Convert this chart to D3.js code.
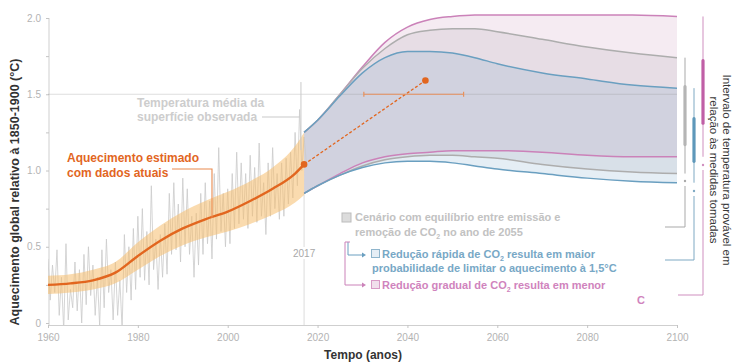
<!DOCTYPE html>
<html>
<head>
<meta charset="utf-8">
<script src="https://cdn.jsdelivr.net/npm/d3@7"></script>
<style>
  html, body { margin: 0; padding: 0; background: #fff; }
</style>
</head>
<body>
<div id="chart"></div>
<script>
// observed mean surface temperature, two readings per year from 1960
const obsStartYear = 1960;
const obsValues = [
  0.42, 0.15, 0.38, 0.20, 0.48, 0.05, 0.30, -0.05, 0.52, 0.02,
  0.22, 0.10, 0.40, 0.08, 0.35, 0.00, 0.45, 0.12, 0.50, 0.18,
  0.38, 0.05, 0.30, -0.02, 0.48, 0.10, 0.55, 0.20, 0.35, 0.02,
  0.40, 0.05, 0.28, -0.04, 0.58, 0.20, 0.50, 0.15, 0.62, 0.22,
  0.70, 0.30, 0.75, 0.28, 0.60, 0.25, 0.90, 0.35, 0.55, 0.22,
  0.58, 0.30, 0.65, 0.32, 0.85, 0.45, 0.92, 0.48, 0.78, 0.40,
  0.95, 0.50, 0.88, 0.45, 0.70, 0.30, 0.72, 0.38, 0.85, 0.45,
  0.92, 0.52, 0.80, 0.42, 0.98, 0.55, 1.15, 0.60, 0.85, 0.50,
  0.88, 0.52, 0.98, 0.62, 1.12, 0.65, 1.05, 0.68, 0.98, 0.62,
  1.10, 0.70, 1.02, 0.66, 1.18, 0.70, 0.92, 0.58, 1.05, 0.70,
  1.15, 0.75, 0.98, 0.68, 1.05, 0.70, 1.08, 0.78, 1.12, 0.82,
  1.25, 0.90, 1.40, 1.00, 1.22, 1.05
];

// estimated warming (smoothed) with its uncertainty band
const trendYears = [1960, 1965, 1970, 1975, 1980, 1985, 1990, 1995, 2000, 2005, 2010, 2015, 2017];
const trendMid = [0.25, 0.26, 0.28, 0.33, 0.44, 0.54, 0.62, 0.68, 0.73, 0.80, 0.88, 0.98, 1.04];
const trendLow = [0.19, 0.20, 0.22, 0.26, 0.35, 0.44, 0.51, 0.56, 0.60, 0.65, 0.71, 0.79, 0.84];
const trendHigh = [0.31, 0.32, 0.35, 0.40, 0.53, 0.64, 0.73, 0.80, 0.86, 0.93, 1.02, 1.16, 1.25];

// scenario ranges 2017-2100
const projYears = [2017, 2020, 2025, 2030, 2035, 2040, 2045, 2050, 2055, 2060, 2070, 2080, 2090, 2100];
const pinkTop = [1.25, 1.33, 1.50, 1.68, 1.84, 1.94, 1.99, 2.01, 2.02, 2.02, 2.02, 2.02, 2.02, 2.01];
const pinkBottom = [0.85, 0.90, 0.98, 1.05, 1.09, 1.11, 1.12, 1.13, 1.13, 1.13, 1.12, 1.10, 1.09, 1.09];
const grayTop = [1.25, 1.33, 1.50, 1.67, 1.80, 1.89, 1.92, 1.93, 1.93, 1.91, 1.86, 1.81, 1.77, 1.74];
const grayBottom = [0.85, 0.90, 0.97, 1.03, 1.07, 1.09, 1.10, 1.10, 1.09, 1.08, 1.04, 1.01, 0.99, 0.98];
const blueTop = [1.25, 1.33, 1.49, 1.64, 1.74, 1.78, 1.78, 1.77, 1.74, 1.70, 1.64, 1.60, 1.56, 1.54];
const blueBottom = [0.85, 0.90, 0.97, 1.02, 1.05, 1.06, 1.06, 1.05, 1.03, 1.01, 0.98, 0.95, 0.93, 0.92];

// likely ranges shown by the brackets on the right
const pinkLikely = [1.31, 1.72];
const grayLikely = [1.17, 1.55];
const blueLikely = [1.06, 1.34];

// projection of current warming rate and the 1.5 crossing window
const rateYears = [2017, 2044];
const rateValues = [1.04, 1.59];
const crossingYears = [2030.3, 2052.5];
const crossingValue = 1.5;

const xTicks = [1960, 1980, 2000, 2020, 2040, 2060, 2080, 2100];
const yTicks = [0, 0.25, 0.5, 0.75, 1, 1.25, 1.5, 1.75, 2];
const yTickLabels = ["0", "", "0.5", "", "1.0", "", "1.5", "", "2.0"];

window.addEventListener("load", () => {
  const width = 733;
  const height = 362;

  const orange = "#e2661f";
  const pink = "#cb82b9";
  const grayLine = "#adadad";
  const blue = "#6a9fc0";
  const dark = "#333333";
  const tickColor = "#b3b3b3";

  const svg = d3
    .select("#chart")
    .append("svg")
    .attr("width", width)
    .attr("height", height)
    .style("font-family", "'Liberation Sans', Arial, sans-serif");

  const x = d3.scaleLinear().domain([1960, 2100]).range([48, 677]);
  const y = d3.scaleLinear().domain([0, 2]).range([323, 18]);

  svg
    .append("defs")
    .append("clipPath")
    .attr("id", "plot-clip")
    .append("rect")
    .attr("x", x(1960))
    .attr("y", y(2))
    .attr("width", x(2100) - x(1960))
    .attr("height", 325 - y(2));

  // axes
  const yAxis = svg
    .append("g")
    .attr("transform", `translate(${x(1960) + 1},0)`)
    .call(
      d3
        .axisLeft(y)
        .tickValues(yTicks)
        .tickFormat((d, i) => yTickLabels[i])
        .tickSize(3)
        .tickSizeOuter(0)
        .tickPadding(5),
    );
  yAxis.select(".domain").attr("stroke", "#cfcfcf").attr("d", `M0,${y(2)}V325`);
  yAxis.selectAll(".tick line").attr("stroke", "#c4c4c4");
  yAxis.selectAll("text").attr("fill", tickColor).attr("font-size", "10px");

  const xAxis = svg
    .append("g")
    .attr("transform", "translate(0,325)")
    .call(d3.axisBottom(x).tickValues(xTicks).tickFormat(d3.format("d")).tickSize(3).tickSizeOuter(0).tickPadding(6));
  xAxis.select(".domain").attr("stroke", "#cfcfcf");
  xAxis.selectAll(".tick line").attr("stroke", "#c4c4c4");
  xAxis.selectAll("text").attr("fill", tickColor).attr("font-size", "10px");

  svg
    .append("text")
    .attr("transform", "translate(19,192) rotate(-90)")
    .attr("text-anchor", "middle")
    .attr("font-size", "12.5px")
    .attr("font-weight", "bold")
    .attr("fill", dark)
    .text("Aquecimento global relativo à 1850-1900 (°C)");

  svg
    .append("text")
    .attr("x", 363)
    .attr("y", 359)
    .attr("text-anchor", "middle")
    .attr("font-size", "12px")
    .attr("font-weight", "bold")
    .attr("fill", dark)
    .text("Tempo (anos)");

  // 2017 marker
  svg
    .append("line")
    .attr("x1", x(2017))
    .attr("x2", x(2017))
    .attr("y1", y(0.85))
    .attr("y2", 325)
    .attr("stroke", "#dcdcdc")
    .attr("stroke-width", 1);
  svg
    .append("rect")
    .attr("x", x(2017) - 12)
    .attr("y", 247)
    .attr("width", 24)
    .attr("height", 12)
    .attr("fill", "#fff");
  svg
    .append("text")
    .attr("x", x(2017))
    .attr("y", 257)
    .attr("text-anchor", "middle")
    .attr("font-size", "10px")
    .attr("fill", "#a8a8a8")
    .text("2017");

  // scenario bands
  const band = (top, bottom) =>
    d3
      .area()
      .x((d, i) => x(projYears[i]))
      .y0((d, i) => y(bottom[i]))
      .y1((d, i) => y(top[i]))
      .curve(d3.curveMonotoneX)(projYears);

  const edge = (vals) =>
    d3
      .line()
      .x((d, i) => x(projYears[i]))
      .y((d, i) => y(vals[i]))
      .curve(d3.curveMonotoneX)(projYears);

  const scenarios = [
    { top: pinkTop, bottom: pinkBottom, fill: "rgba(190,120,170,0.15)", stroke: pink },
    { top: grayTop, bottom: grayBottom, fill: "rgba(160,150,160,0.16)", stroke: grayLine },
    { top: blueTop, bottom: blueBottom, fill: "rgba(110,160,200,0.18)", stroke: blue },
  ];

  scenarios.forEach((s) => {
    svg.append("path").attr("d", band(s.top, s.bottom)).attr("fill", s.fill);
  });

  // 1.5 reference line
  svg
    .append("line")
    .attr("x1", x(1960))
    .attr("x2", x(2100))
    .attr("y1", y(1.5))
    .attr("y2", y(1.5))
    .attr("stroke", "rgba(150,150,150,0.3)")
    .attr("stroke-width", 1);

  scenarios.forEach((s) => {
    [s.top, s.bottom].forEach((vals) => {
      svg
        .append("path")
        .attr("d", edge(vals))
        .attr("fill", "none")
        .attr("stroke", s.stroke)
        .attr("stroke-width", 1.5);
    });
  });

  // observed temperature
  const plot = svg.append("g").attr("clip-path", "url(#plot-clip)");
  plot
    .append("path")
    .attr(
      "d",
      d3
        .line()
        .x((d, i) => x(obsStartYear + i / 2))
        .y((d) => y(d))(obsValues),
    )
    .attr("fill", "none")
    .attr("stroke", "#cacaca")
    .attr("stroke-width", 0.8);

  // estimated warming band and line
  svg
    .append("path")
    .attr(
      "d",
      d3
        .area()
        .x((d, i) => x(trendYears[i]))
        .y0((d, i) => y(trendLow[i]))
        .y1((d, i) => y(trendHigh[i]))
        .curve(d3.curveMonotoneX)(trendYears),
    )
    .attr("fill", "rgba(246,190,110,0.55)");

  svg
    .append("path")
    .attr(
      "d",
      d3
        .line()
        .x((d, i) => x(trendYears[i]))
        .y((d, i) => y(trendMid[i]))
        .curve(d3.curveMonotoneX)(trendYears),
    )
    .attr("fill", "none")
    .attr("stroke", orange)
    .attr("stroke-width", 2.4);

  // current-rate projection
  svg
    .append("line")
    .attr("x1", x(rateYears[0]))
    .attr("y1", y(rateValues[0]))
    .attr("x2", x(rateYears[1]))
    .attr("y2", y(rateValues[1]))
    .attr("stroke", orange)
    .attr("stroke-width", 1.3)
    .attr("stroke-dasharray", "3 2");

  rateYears.forEach((yr, i) => {
    svg
      .append("circle")
      .attr("cx", x(yr))
      .attr("cy", y(rateValues[i]))
      .attr("r", 3.3)
      .attr("fill", orange);
  });

  svg
    .append("line")
    .attr("x1", x(crossingYears[0]))
    .attr("x2", x(crossingYears[1]))
    .attr("y1", y(crossingValue))
    .attr("y2", y(crossingValue))
    .attr("stroke", "#e8915c")
    .attr("stroke-width", 1.2);
  crossingYears.forEach((yr) => {
    svg
      .append("line")
      .attr("x1", x(yr))
      .attr("x2", x(yr))
      .attr("y1", y(crossingValue) - 2.5)
      .attr("y2", y(crossingValue) + 2.5)
      .attr("stroke", "#e8915c")
      .attr("stroke-width", 1.2);
  });

  // annotations
  const obsNote = svg
    .append("text")
    .attr("font-size", "12px")
    .attr("font-weight", "bold")
    .attr("fill", "#cdcdcd");
  obsNote.append("tspan").attr("x", 137).attr("y", 107).text("Temperatura média da");
  obsNote.append("tspan").attr("x", 137).attr("y", 121).text("superfície observada");

  svg
    .append("path")
    .attr("d", `M262,117H${x(2016.3) - 1}M${x(2016.3)},${y(1.58)}V150`)
    .attr("fill", "none")
    .attr("stroke", "#c9c9c9")
    .attr("stroke-width", 1);

  const estNote = svg
    .append("text")
    .attr("font-size", "12px")
    .attr("font-weight", "bold")
    .attr("fill", orange);
  estNote.append("tspan").attr("x", 67).attr("y", 162).text("Aquecimento estimado");
  estNote.append("tspan").attr("x", 67).attr("y", 177).text("com dados atuais");

  svg
    .append("path")
    .attr("d", `M172,169H${x(1996.5)}V${y(0.69)}`)
    .attr("fill", "none")
    .attr("stroke", "#e98a4f")
    .attr("stroke-width", 1.1);

  // legend
  const co2 = (sel, before, after) => {
    sel.append("tspan").text(before);
    sel.append("tspan").attr("font-size", "7px").attr("dy", 3).text("2");
    sel.append("tspan").attr("dy", -3).text(after);
  };

  svg
    .append("rect")
    .attr("x", 342)
    .attr("y", 213)
    .attr("width", 9)
    .attr("height", 9)
    .attr("fill", "#dcdcdc")
    .attr("stroke", "#bcbcbc");
  const grayLeg = svg.append("g").attr("font-size", "11px").attr("font-weight", "bold").attr("fill", "#c2c2c2");
  grayLeg.append("text").attr("x", 355).attr("y", 221).text("Cenário com equilíbrio entre emissão e");
  co2(grayLeg.append("text").attr("x", 355).attr("y", 236), "remoção de CO", " no ano de 2055");

  svg
    .append("path")
    .attr("d", "M348,242V255H362")
    .attr("fill", "none")
    .attr("stroke", blue)
    .attr("stroke-width", 1);
  svg.append("path").attr("d", "M362,252.5L366,255L362,257.5Z").attr("fill", blue);
  svg
    .append("path")
    .attr("d", "M345,242H350M345,242V285H362")
    .attr("fill", "none")
    .attr("stroke", pink)
    .attr("stroke-width", 1);
  svg.append("path").attr("d", "M362,282.5L366,285L362,287.5Z").attr("fill", pink);

  svg
    .append("rect")
    .attr("x", 371.5)
    .attr("y", 249.5)
    .attr("width", 8)
    .attr("height", 8)
    .attr("fill", "#e6eef5")
    .attr("stroke", "#8fb5cc");
  const blueLeg = svg.append("g").attr("font-size", "11px").attr("font-weight", "bold").attr("fill", "#78a8c6");
  co2(blueLeg.append("text").attr("x", 382).attr("y", 258), "Redução rápida de CO", " resulta em maior");
  blueLeg.append("text").attr("x", 372).attr("y", 272).text("probabilidade de limitar o aquecimento à 1,5°C");

  svg
    .append("rect")
    .attr("x", 371.5)
    .attr("y", 280.5)
    .attr("width", 8)
    .attr("height", 8)
    .attr("fill", "#f1dfec")
    .attr("stroke", "#d89ac6");
  const pinkLeg = svg.append("g").attr("font-size", "11px").attr("font-weight", "bold").attr("fill", "#d083bd");
  co2(pinkLeg.append("text").attr("x", 382).attr("y", 289), "Redução gradual de CO", " resulta em menor");
  pinkLeg.append("text").attr("x", 637).attr("y", 304).text("C");

  // brackets on the right
  const brackets = [
    { bx: 685, top: grayTop, bottom: grayBottom, likely: grayLikely, color: "#a9a9a9", thick: "#b5b5b5", dotY: 181, endY: 227, leftX: 665 },
    { bx: 694, top: blueTop, bottom: blueBottom, likely: blueLikely, color: "#7ea9c3", thick: "#5e98ba", dotY: 191, endY: 260, leftX: 665 },
    { bx: 703, top: pinkTop, bottom: pinkBottom, likely: pinkLikely, color: "#cf8fbf", thick: "#c05fa6", dotY: 165, endY: 295, leftX: 678 },
  ];

  brackets.forEach((b) => {
    const yTop = y(b.top[b.top.length - 1]);
    const yBot = y(b.bottom[b.bottom.length - 1]);
    svg
      .append("path")
      .attr("d", `M${b.bx},${yTop}V${yBot}M${b.bx},${b.dotY + 5}V${b.endY}H${b.leftX}`)
      .attr("fill", "none")
      .attr("stroke", b.color)
      .attr("stroke-width", 1);
    svg
      .append("circle")
      .attr("cx", b.bx)
      .attr("cy", b.dotY)
      .attr("r", 1.2)
      .attr("fill", b.color);
    svg
      .append("line")
      .attr("x1", b.bx)
      .attr("x2", b.bx)
      .attr("y1", y(b.likely[1]))
      .attr("y2", y(b.likely[0]))
      .attr("stroke", b.thick)
      .attr("stroke-width", 3.2)
      .attr("stroke-linecap", "round");
  });

  const sideNote = svg
    .append("text")
    .attr("transform", "translate(723,170) rotate(90)")
    .attr("text-anchor", "middle")
    .attr("font-size", "11.5px")
    .attr("fill", "#3a3a3a");
  sideNote.append("tspan").attr("x", 0).attr("y", 0).text("Intervalo de temperatura provável em");
  sideNote.append("tspan").attr("x", 0).attr("y", 13).text("relação às medidas tomadas");
});
</script>
</body>
</html>
